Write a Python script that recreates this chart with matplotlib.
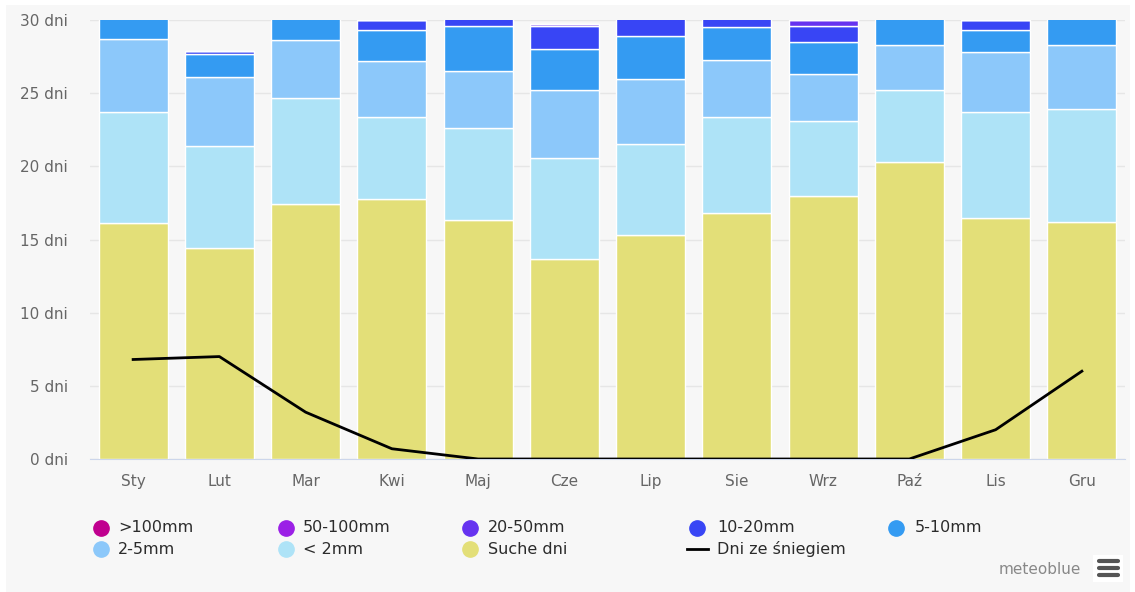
import numpy as np
import matplotlib.pyplot as plt
from matplotlib.patches import Rectangle
from matplotlib.lines import Line2D

months = ['Sty', 'Lut', 'Mar', 'Kwi', 'Maj', 'Cze', 'Lip', 'Sie', 'Wrz', 'Paź', 'Lis', 'Gru']

# days per month in each precipitation class (stacked bottom -> top)
dry = [16.1, 14.4, 17.4, 17.8, 16.3, 13.7, 15.3, 16.8, 18.0, 20.3, 16.5, 16.2]
lt2 = [7.6, 7.0, 7.3, 5.6, 6.3, 6.9, 6.2, 6.6, 5.1, 4.9, 7.2, 7.7]
mm2_5 = [5.0, 4.7, 3.9, 3.8, 3.9, 4.6, 4.5, 3.9, 3.2, 3.1, 4.1, 4.4]
mm5_10 = [2.3, 1.6, 2.4, 2.1, 3.1, 2.8, 2.9, 2.2, 2.2, 2.7, 1.5, 2.7]
mm10_20 = [0, 0.15, 0, 0.7, 1.4, 1.6, 2.1, 1.5, 1.1, 0, 0.7, 0]
mm20_50 = [0, 0, 0, 0, 0, 0.15, 0, 0, 0.4, 0, 0, 0]
mm50_100 = [0] * 12
mm100 = [0] * 12

snow_days = [6.8, 7.0, 3.2, 0.7, 0, 0, 0, 0, 0, 0, 2.0, 6.0]

series = [
    ('Suche dni', dry, '#e3df78'),
    ('< 2mm', lt2, '#aee3f7'),
    ('2-5mm', mm2_5, '#8cc8fa'),
    ('5-10mm', mm5_10, '#349bf2'),
    ('10-20mm', mm10_20, '#3845f5'),
    ('20-50mm', mm20_50, '#6633f0'),
    ('50-100mm', mm50_100, '#9b20e6'),
    ('>100mm', mm100, '#c0008f'),
]
colors = {name: c for name, _, c in series}

W, H = 1135, 592
fig = plt.figure(figsize=(W / 100, H / 100), dpi=100)
fig.patch.set_facecolor('white')
fig.patches.append(Rectangle((6 / W, 0), 1124 / W, 587 / H, transform=fig.transFigure,
                             facecolor='#f7f7f7', edgecolor='none', zorder=-10))

ax = fig.add_axes([90 / W, 133 / H, 1035 / W, 439 / H])
ax.set_facecolor('none')

x = np.arange(len(months))
bottom = np.zeros(len(months))
for name, vals, color in series:
    vals = np.array(vals, dtype=float)
    ax.bar(x, vals, bottom=bottom, width=0.8, color=color, edgecolor='white',
           linewidth=1, zorder=2)
    bottom += vals

ax.plot(x, snow_days, color='black', lw=2, zorder=3)

ax.set_xlim(-0.5, 11.5)
ax.set_ylim(0, 30)
ax.set_yticks(range(0, 31, 5))
ax.set_yticklabels([f'{v} dni' for v in range(0, 31, 5)])
ax.set_xticks(x)
ax.set_xticklabels(months)
ax.grid(axis='y', color='#e6e6e6', lw=1, zorder=0)
ax.set_axisbelow(True)
for s in ['top', 'right', 'left']:
    ax.spines[s].set_visible(False)
ax.spines['bottom'].set_color('#ccd6eb')
ax.tick_params(axis='y', length=0, pad=16, labelsize=11, labelcolor='#666666')
ax.tick_params(axis='x', length=0, pad=11, labelsize=11, labelcolor='#666666')

# legend, laid out row by row
legend_rows = [
    [('>100mm', 101, 118), ('50-100mm', 286, 303), ('20-50mm', 470, 488),
     ('10-20mm', 697, 717), ('5-10mm', 896, 915)],
    [('2-5mm', 101, 118), ('< 2mm', 286, 303), ('Suche dni', 470, 488),
     ('Dni ze śniegiem', 697, 717)],
]
row_y = [528, 549]
for row, yy in zip(legend_rows, row_y):
    fy = 1 - yy / H
    for name, mx, tx in row:
        if name == 'Dni ze śniegiem':
            fig.lines.append(Line2D([687 / W, 708 / W], [fy, fy], color='black', lw=2,
                                    transform=fig.transFigure))
        else:
            fig.lines.append(Line2D([mx / W], [fy], marker='o', markersize=11,
                                    color=colors[name], lw=0,
                                    transform=fig.transFigure))
        fig.text(tx / W, fy, name, ha='left', va='center', fontsize=11.5,
                 fontweight='medium', color='#2b2b2b')

fig.text(1081 / W, 1 - 569 / H, 'meteoblue', ha='right', va='center',
         fontsize=11, color='#888888')
fig.patches.append(Rectangle((1093 / W, 1 - 582 / H), 30 / W, 27 / H,
                             transform=fig.transFigure,
                             facecolor='white', edgecolor='none'))
for yy in [561, 568, 575]:
    fig.lines.append(Line2D([1099 / W, 1118 / W], [1 - yy / H] * 2, color='#555555',
                            lw=3, solid_capstyle='round', transform=fig.transFigure))

fig.savefig('out.png', dpi=100)
